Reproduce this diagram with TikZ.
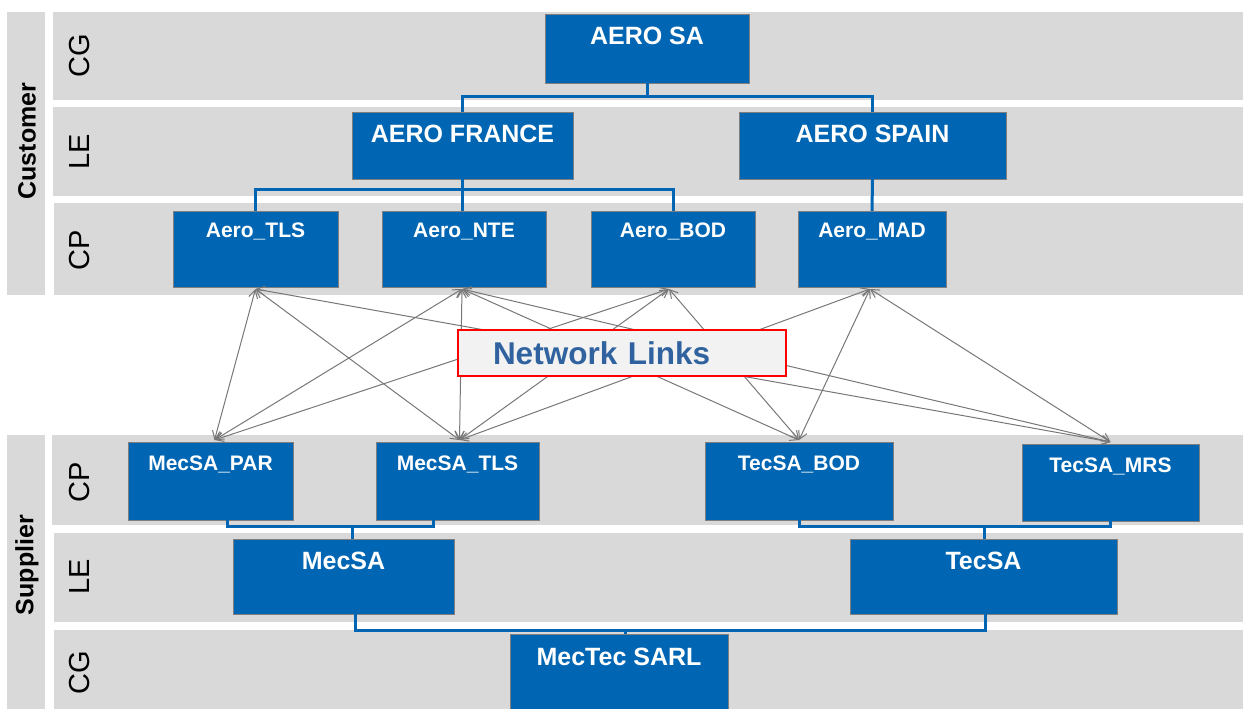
\documentclass[tikz,border=0pt]{standalone}
\usepackage{fontspec}
\setmainfont{Liberation Sans}
\usetikzlibrary{arrows.meta,calc}
\definecolor{bandgray}{HTML}{D9D9D9}
\definecolor{boxblue}{HTML}{0066B3}
\definecolor{boxedge}{HTML}{7F7F7F}
\definecolor{linkgray}{HTML}{777777}
\definecolor{nltext}{HTML}{2F629E}
\definecolor{nlfill}{HTML}{F2F2F2}
\definecolor{nlred}{HTML}{FF0000}
\begin{document}
\begin{tikzpicture}[x=1pt,y=-1pt,
  band/.style={fill=bandgray, draw=none},
  orgbox/.style={fill=boxblue, draw=boxedge, line width=1pt, inner sep=0pt, outer sep=0pt},
  bigtxt/.style={text=white, font=\fontsize{25}{30}\selectfont\bfseries, anchor=base, inner sep=0pt},
  smalltxt/.style={text=white, font=\fontsize{21}{25}\selectfont\bfseries, anchor=base, inner sep=0pt},
  levellbl/.style={rotate=90, font=\fontsize{29}{34}\selectfont, text=black, inner sep=0pt},
  sidelbl/.style={rotate=90, font=\fontsize{25}{30}\selectfont\bfseries, text=black, inner sep=0pt},
  conn/.style={draw=boxblue, line width=3pt},
  link/.style={draw=linkgray, line width=1pt, {Straight Barb[length=8pt,width=9pt]}-{Straight Barb[length=8pt,width=9pt]}},
  nlbox/.style={fill=nlfill, draw=nlred, line width=2pt, minimum width=328pt, minimum height=46pt,
     text width=258pt, align=left, inner xsep=35pt, inner ysep=0pt,
     font=\fontsize{31.5}{34}\selectfont\bfseries, text=nltext}
]
\useasboundingbox (0,0) rectangle (1247,709);

% ---------- bands ----------
\fill[band] (7,12) rectangle (45,295);
\fill[band] (7,435) rectangle (45,709);
\fill[band] (53,12) rectangle (1243,100);
\fill[band] (53,107) rectangle (1243,196);
\fill[band] (54,203) rectangle (1243,295);
\fill[band] (52,435) rectangle (1243,525);
\fill[band] (54,533) rectangle (1243,622);
\fill[band] (54,630) rectangle (1243,709);

% ---------- band labels ----------
\node[sidelbl] (customer) at (27,141) {Customer};
\node[sidelbl] (supplier) at (27,565) {Supplier};
\node[levellbl] (lcg1) at (80,56) {CG};
\node[levellbl] (lle1) at (80,152) {LE};
\node[levellbl] (lcp1) at (80,250) {CP};
\node[levellbl] (lcp2) at (80,482) {CP};
\node[levellbl] (lle2) at (80,577) {LE};
\node[levellbl] (lcg2) at (80,673) {CG};

% ---------- customer boxes ----------
\node[orgbox, minimum width=204pt, minimum height=68pt] (aerosa) at (647,49) {};
\node[orgbox, minimum width=221pt, minimum height=67pt] (aerofr) at (462.5,145.5) {};
\node[orgbox, minimum width=267pt, minimum height=67pt] (aerosp) at (872.5,145.5) {};
\node[orgbox, minimum width=165pt, minimum height=76pt] (aerotls) at (255.5,249) {};
\node[orgbox, minimum width=164pt, minimum height=76pt] (aeronte) at (464,249) {};
\node[orgbox, minimum width=164pt, minimum height=76pt] (aerobod) at (673,249) {};
\node[orgbox, minimum width=148pt, minimum height=76pt] (aeromad) at (872,249) {};

% ---------- supplier boxes ----------
\node[orgbox, minimum width=165pt, minimum height=78pt] (mecpar) at (210.5,481) {};
\node[orgbox, minimum width=163pt, minimum height=78pt] (mectls) at (457.5,481) {};
\node[orgbox, minimum width=188pt, minimum height=78pt] (tecbod) at (799,481) {};
\node[orgbox, minimum width=177pt, minimum height=77pt] (tecmrs) at (1110.5,482.5) {};
\node[orgbox, minimum width=221pt, minimum height=75pt] (mecsa) at (343.5,576.5) {};
\node[orgbox, minimum width=267pt, minimum height=75pt] (tecsa) at (983.5,576.5) {};
\node[orgbox, minimum width=218pt, minimum height=80pt] (mectec) at (619,674) {};

% ---------- box texts ----------
\node[bigtxt] (taerosa) at ([yshift=-30pt]aerosa.north) {AERO SA};
\node[bigtxt] (taerofr) at ([yshift=-30pt]aerofr.north) {AERO FRANCE};
\node[bigtxt] (taerosp) at ([yshift=-30pt]aerosp.north) {AERO SPAIN};
\node[smalltxt] (taerotls) at ([yshift=-26pt]aerotls.north) {Aero\_TLS};
\node[smalltxt] (taeronte) at ([yshift=-26pt]aeronte.north) {Aero\_NTE};
\node[smalltxt] (taerobod) at ([yshift=-26pt]aerobod.north) {Aero\_BOD};
\node[smalltxt] (taeromad) at ([yshift=-26pt]aeromad.north) {Aero\_MAD};
\node[smalltxt] (tmecpar) at ([yshift=-28pt]mecpar.north) {MecSA\_PAR};
\node[smalltxt] (tmectls) at ([yshift=-28pt]mectls.north) {MecSA\_TLS};
\node[smalltxt] (ttecbod) at ([yshift=-28pt]tecbod.north) {TecSA\_BOD};
\node[smalltxt] (ttecmrs) at ([yshift=-28pt]tecmrs.north) {TecSA\_MRS};
\node[bigtxt] (tmecsa) at ([yshift=-30pt]mecsa.north) {MecSA};
\node[bigtxt] (ttecsa) at ([yshift=-30pt]tecsa.north) {TecSA};
\node[bigtxt] (tmectec) at ([yshift=-31pt]mectec.north) {MecTec SARL};

% ---------- hierarchy connectors ----------
\draw[conn] (aerosa.south) -- ++(0,13);
\draw[conn] (aerofr.north) -- ++(0,-16) -| (aerosp.north);
\draw[conn] (aerofr.south) -- (aerofr.south |- aeronte.north);
\draw[conn] (aerotls.north) -- ++(0,-22) -| (aerobod.north);
\draw[conn] (aerosp.south) -- (aeromad.north);

\coordinate (mbus) at (352,526);
\coordinate (tbus) at (984,526);
\coordinate (gbus) at (625,630);
\draw[conn] (mecpar.south -| 227,0) -- ++(0,6) -| (mectls.south -| 433,0);
\draw[conn] (mecsa.north -| mbus) -- (mbus);
\draw[conn] (tecbod.south) -- ++(0,6) -| (tecmrs.south);
\draw[conn] (tecsa.north -| tbus) -- (tbus);
\draw[conn] (mecsa.south -| 355,0) -- ++(0,16) -| (tecsa.south -| 985,0);
\draw[conn] (mectec.north -| gbus) -- (gbus);

% ---------- network links ----------
\coordinate (uTLS) at ([yshift=-2pt]aerotls.south);
\coordinate (uNTE) at ([yshift=-2pt,xshift=-2pt]aeronte.south);
\coordinate (uBOD) at ([yshift=-2pt,xshift=-4pt]aerobod.south);
\coordinate (uMAD) at ([yshift=-2pt,xshift=-2pt]aeromad.south);
\coordinate (dPAR) at ([yshift=2pt,xshift=4pt]mecpar.north);
\coordinate (dTLS) at ([yshift=2pt,xshift=2pt]mectls.north);
\coordinate (dBOD) at ([yshift=2pt]tecbod.north);
\coordinate (dMRS) at ([yshift=2pt]tecmrs.north);

\draw[link] (uTLS) -- (dPAR);
\draw[link] (uTLS) -- (dTLS);
\draw[link] (uTLS) -- (dMRS);
\draw[link] (uNTE) -- (dPAR);
\draw[link] (uNTE) -- (dTLS);
\draw[link] (uNTE) -- (dBOD);
\draw[link] (uNTE) -- (dMRS);
\draw[link] (uBOD) -- (dPAR);
\draw[link] (uBOD) -- (dTLS);
\draw[link] (uBOD) -- (dBOD);
\draw[link] (uMAD) -- (dTLS);
\draw[link] (uMAD) -- (dBOD);
\draw[link] (uMAD) -- (dMRS);

\node[nlbox] (netlinks) at (622,353) {Network Links};
\end{tikzpicture}
\end{document}
